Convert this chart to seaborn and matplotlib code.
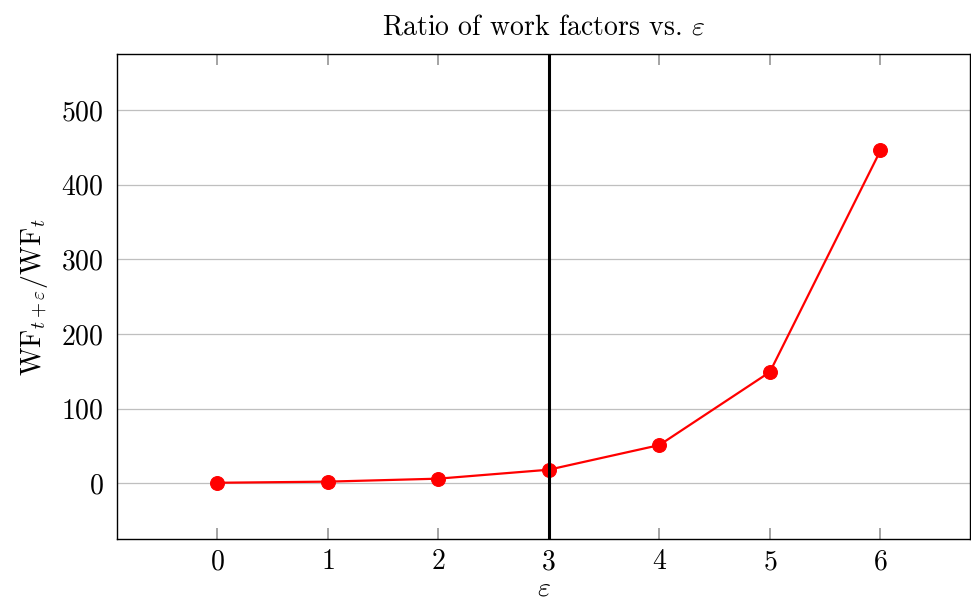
import numpy as np
import pandas as pd
import matplotlib
matplotlib.use("Agg")
import matplotlib.pyplot as plt
import seaborn as sns

# Valores
epsilon = [0, 1, 2, 3, 4, 5, 6]
ratio = [0.5, 2, 6, 18, 51, 149, 446]
x_ticks = [0, 1, 2, 3, 4, 5, 6]
y_ticks = [0, 100, 200, 300, 400, 500]
threshold = 3

sns.set_theme(style="white")
plt.rcParams["font.family"] = "serif"
plt.rcParams["font.serif"] = ["cmr10", "DejaVu Serif"]
plt.rcParams["mathtext.fontset"] = "cm"
plt.rcParams["axes.formatter.use_mathtext"] = True
plt.rcParams["text.color"] = "black"
plt.rcParams["axes.labelcolor"] = "black"
plt.rcParams["xtick.labelcolor"] = "black"
plt.rcParams["ytick.labelcolor"] = "black"

df = pd.DataFrame({"eps": epsilon, "ratio": ratio})

fig, ax = plt.subplots(figsize=(9.71, 6.03), dpi=100)
fig.subplots_adjust(left=0.121, right=0.999, top=0.91, bottom=0.106)

ax.yaxis.grid(True, color="#bfbfbf", lw=0.9)
ax.set_axisbelow(True)

sns.lineplot(data=df, x="eps", y="ratio", ax=ax, color="red", lw=1.6,
             marker="o", markersize=10, markeredgecolor="red", zorder=3)
ax.axvline(threshold, color="black", lw=2.2, zorder=4)

ax.set_xlim(-0.9, 6.81)
ax.set_ylim(-75, 575)
ax.set_xticks(x_ticks)
ax.set_yticks(y_ticks)
ax.tick_params(axis="x", direction="in", top=True, bottom=True, length=8,
               color="#999999", labelsize=20, pad=7)
ax.tick_params(axis="y", direction="in", left=True, length=0, labelsize=20, pad=10)
for s in ax.spines.values():
    s.set_color("black")
    s.set_linewidth(1.0)

ax.set_xlabel(r"$\varepsilon$", fontsize=20, labelpad=0)
ax.set_ylabel(r"$\mathrm{WF}_{t+\varepsilon}/\mathrm{WF}_t$", fontsize=20, labelpad=8)
ax.set_title(r"Ratio of work factors vs. $\varepsilon$", fontsize=20, pad=14)

fig.savefig("out.png", dpi=100)
